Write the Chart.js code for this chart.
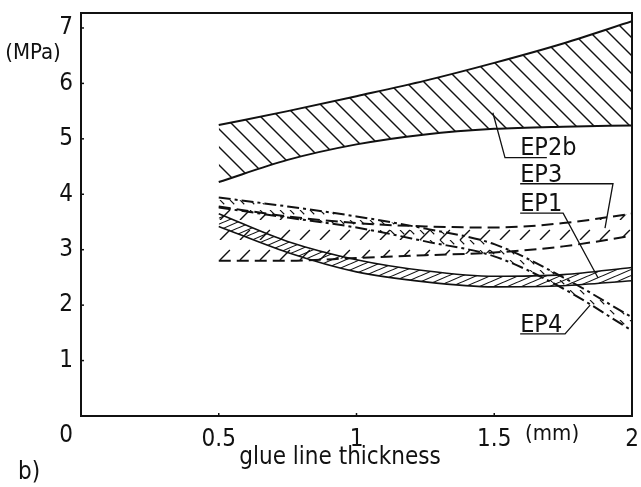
<!DOCTYPE html>
<html>
<head>
<meta charset="utf-8">
<script src="https://cdn.jsdelivr.net/npm/chart.js@4"></script>
<style>
  html, body { margin: 0; padding: 0; background: #fff; }
  #wrap { width: 641px; height: 487px; }
</style>
</head>
<body>
<div id="wrap"><canvas id="chart" width="641" height="487"></canvas></div>
<script>
// glue line thickness (mm)
const thickness = [0.5, 0.75, 1, 1.25, 1.5, 1.75, 2];

// strength bands (MPa), upper and lower edge of each band
const ep2bUpper = [5.25, 5.5, 5.77, 6.05, 6.37, 6.72, 7.12];
const ep2bLower = [4.22, 4.62, 4.9, 5.08, 5.18, 5.22, 5.24];
const ep3Upper = [3.78, 3.6, 3.48, 3.42, 3.4, 3.48, 3.65];
const ep3Lower = [2.8, 2.8, 2.85, 2.9, 2.95, 3.06, 3.25];
const ep1Upper = [3.65, 3.15, 2.82, 2.62, 2.52, 2.55, 2.68];
const ep1Lower = [3.42, 2.95, 2.6, 2.42, 2.33, 2.35, 2.44];
const ep4Upper = [3.94, 3.78, 3.6, 3.38, 3.1, 2.5, 1.78];
const ep4Lower = [3.76, 3.58, 3.4, 3.15, 2.88, 2.3, 1.54];

const xTicks = [0.5, 1, 1.5, 2];
const yTicks = [1, 2, 3, 4, 5, 6, 7];

const FONT = 'DejaVu Sans Condensed';

// hatch pattern: diagonal lines, w = horizontal spacing, h = rise per spacing
function hatch(w, h, dir, lw, dash) {
    const c = document.createElement('canvas');
    c.width = w;
    c.height = h;
    const g = c.getContext('2d');
    g.strokeStyle = '#111';
    g.lineWidth = lw;
    if (dash) g.setLineDash(dash);
    for (let k = -1; k <= 1; k++) {
        g.beginPath();
        if (dash) {
            if (dir === '\\') { g.moveTo(k * w, 0); g.lineTo(k * w + w, h); }
            else { g.moveTo(k * w, h); g.lineTo(k * w + w, 0); }
        } else {
            if (dir === '\\') { g.moveTo(k * w - w, -h); g.lineTo(k * w + 2 * w, 2 * h); }
            else { g.moveTo(k * w - w, 2 * h); g.lineTo(k * w + 2 * w, -h); }
        }
        g.stroke();
    }
    return g.createPattern(c, 'repeat');
}

const pts = ys => thickness.map((x, i) => ({ x: x, y: ys[i] }));

function band(upper, lower, fill, lw, dash) {
    const common = {
        borderColor: '#111',
        borderWidth: lw,
        borderDash: dash || [],
        pointRadius: 0,
        cubicInterpolationMode: 'monotone'
    };
    return [
        Object.assign({ data: pts(upper), fill: '+1', backgroundColor: fill }, common),
        Object.assign({ data: pts(lower), fill: false }, common)
    ];
}

// labels with underline and leader line, in data coordinates
const bandLabels = [
    { text: 'EP2b', x: 1.594, y: 4.71, line: [[1.691, 4.66], [1.539, 4.66], [1.495, 5.47]] },
    { text: 'EP3', x: 1.594, y: 4.23, line: [[1.594, 4.19], [1.931, 4.19], [1.902, 3.39]] },
    { text: 'EP1', x: 1.594, y: 3.7, line: [[1.594, 3.66], [1.75, 3.66], [1.877, 2.49]] },
    { text: 'EP4', x: 1.594, y: 1.52, line: [[1.594, 1.48], [1.757, 1.48], [1.848, 2.0]] }
];

const decorations = {
    id: 'decorations',
    afterDraw(chart) {
        const ctx = chart.ctx;
        const a = chart.chartArea;
        const xs = chart.scales.x, ys = chart.scales.y;
        ctx.save();
        ctx.strokeStyle = '#111';
        ctx.fillStyle = '#111';

        // frame top and right
        ctx.lineWidth = 2;
        ctx.beginPath();
        ctx.moveTo(a.left, a.top);
        ctx.lineTo(a.right, a.top);
        ctx.lineTo(a.right, a.bottom);
        ctx.stroke();

        // small inward tick marks
        ctx.lineWidth = 1.5;
        yTicks.forEach(v => {
            const p = ys.getPixelForValue(v);
            ctx.beginPath(); ctx.moveTo(a.left, p); ctx.lineTo(a.left + 3, p); ctx.stroke();
        });
        xTicks.slice(0, 3).forEach(v => {
            const p = xs.getPixelForValue(v);
            ctx.beginPath(); ctx.moveTo(p, a.bottom); ctx.lineTo(p, a.bottom - 3); ctx.stroke();
        });

        // axis texts
        ctx.textAlign = 'center';
        ctx.textBaseline = 'middle';
        ctx.font = '22px "' + FONT + '"';
        ctx.fillText('(MPa)', 33, ys.getPixelForValue(6.55));
        ctx.font = '24px "' + FONT + '"';
        ctx.fillText('0', a.left - 15, a.bottom + 20);
        ctx.font = '22px "' + FONT + '"';
        ctx.fillText('(mm)', xs.getPixelForValue(1.71), a.bottom + 18);
        ctx.font = '24px "' + FONT + '"';
        ctx.fillText('glue line thickness', 340, a.bottom + 42);
        ctx.fillText('b)', 29, a.bottom + 57);

        // band labels
        ctx.font = '25px "' + FONT + '"';
        ctx.textAlign = 'left';
        ctx.textBaseline = 'alphabetic';
        ctx.lineWidth = 1.3;
        bandLabels.forEach(l => {
            ctx.fillText(l.text, xs.getPixelForValue(l.x), ys.getPixelForValue(l.y));
            ctx.beginPath();
            l.line.forEach((p, i) => {
                const px = xs.getPixelForValue(p[0]), py = ys.getPixelForValue(p[1]);
                if (i === 0) ctx.moveTo(px, py); else ctx.lineTo(px, py);
            });
            ctx.stroke();
        });
        ctx.restore();
    }
};

const datasets = [].concat(
    band(ep2bUpper, ep2bLower, hatch(18, 18, '\\', 1.4), 2),
    band(ep3Upper, ep3Lower, hatch(20, 20, '/', 1.4, [14, 14.28]), 2, [12, 6]),
    band(ep1Upper, ep1Lower, hatch(14, 6, '/', 1.1), 1.6),
    band(ep4Upper, ep4Lower, hatch(10, 10, '\\', 1.1, [6, 8.14]), 2, [12, 4, 3, 4])
);

new Chart(document.getElementById('chart'), {
    type: 'line',
    data: { datasets: datasets },
    options: {
        responsive: false,
        animation: false,
        devicePixelRatio: 1,
        layout: { padding: { left: 0, top: 13, right: 9, bottom: 0 } },
        plugins: {
            legend: { display: false },
            tooltip: { enabled: false },
            filler: { propagate: false }
        },
        scales: {
            x: {
                type: 'linear',
                min: 0,
                max: 2,
                grid: { display: false, drawTicks: false },
                border: { display: true, color: '#111', width: 2 },
                afterBuildTicks: s => { s.ticks = xTicks.map(v => ({ value: v })); },
                afterFit: s => {
                    s.height = 71;
                    s.paddingLeft = 0;
                    s.paddingRight = 0;
                },
                ticks: {
                    color: '#111',
                    padding: 9,
                    maxRotation: 0,
                    callback: v => String(v),
                    font: { family: FONT, size: 24 }
                }
            },
            y: {
                min: 0,
                max: 7.27,
                grid: { display: false, drawTicks: false },
                border: { display: true, color: '#111', width: 2 },
                afterBuildTicks: s => { s.ticks = yTicks.map(v => ({ value: v })); },
                afterFit: s => {
                    s.width = 81;
                    s.paddingTop = 0;
                    s.paddingBottom = 0;
                },
                ticks: {
                    color: '#111',
                    padding: 8,
                    callback: v => String(v),
                    font: { family: FONT, size: 24 }
                }
            }
        }
    },
    plugins: [decorations]
});
</script>
</body>
</html>
